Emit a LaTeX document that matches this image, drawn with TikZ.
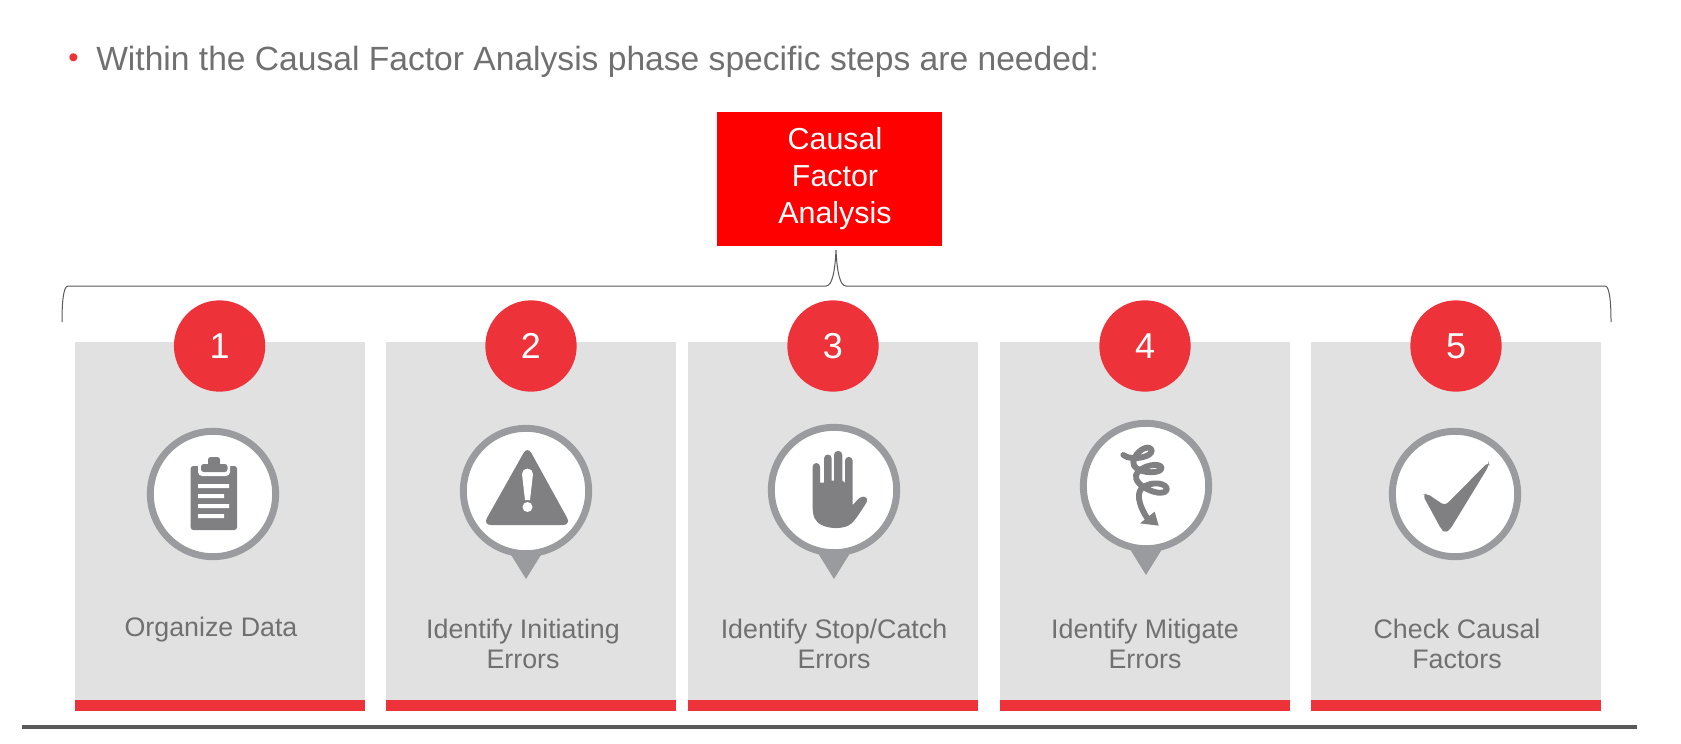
\documentclass[tikz,border=0pt]{standalone}
\usepackage{fontspec}
\setmainfont{Liberation Sans}
\definecolor{redc}{HTML}{EE3239}
\definecolor{panel}{HTML}{E1E1E2}
\definecolor{ringc}{HTML}{9A9B9E}
\definecolor{iconc}{HTML}{808082}
\definecolor{txt}{HTML}{707071}
\tikzset{
 panelbox/.style={fill=panel,draw=none,minimum width=217.5pt,minimum height=268.5pt,inner sep=0,outer sep=0,anchor=north west},
 barbox/.style={fill=redc,draw=none,minimum width=217.5pt,minimum height=8.25pt,inner sep=0,outer sep=0,anchor=north west},
 numdot/.style={circle,fill=redc,minimum size=68.5pt,inner sep=0,text=white,font=\fontsize{27}{27}\selectfont},
 ringdot/.style={circle,fill=white,draw=ringc,line width=5.2pt,minimum size=94pt,inner sep=0},
 steplabel/.style={align=center,text=txt,font=\fontsize{20.1}{22.7}\selectfont,inner sep=0},
 iconfill/.style={fill=iconc,draw=none},
 pointer/.style={fill=ringc,draw=none},
}
\begin{document}
\begin{tikzpicture}[x=0.75pt,y=-0.75pt]
\useasboundingbox (0,0) rectangle (1681,743);
\fill[white] (0,0) rectangle (1681,743);
% heading
\node[anchor=west,inner sep=0,text=redc,font=\fontsize{22}{22}\selectfont] (bullet) at (68,61) {•};
\node[anchor=west,inner sep=0,text=txt,font=\fontsize{25.2}{30}\selectfont] (head) at (96,62) {Within the Causal Factor Analysis phase specific steps are needed:};
% red box
\node[fill=red,minimum width=168.75pt,minimum height=100.5pt,inner sep=0] (cfa) at (829.5,178.5) {};
\node[inner sep=0,align=center,text=white,font=\fontsize{22.8}{27.5}\selectfont] (cfatext) at (835,178.5) {Causal\\Factor\\Analysis};
% brace
\coordinate (bl) at (62,322);
\coordinate (br) at (1611,322);
\coordinate (bt) at (836,250);
\draw[draw=black!65,line width=0.75pt]
 (bl) .. controls (62,305) and (63,286) .. (68,286) -- (826,286)
 .. controls (832,286) and (835,272) .. (bt)
 .. controls (837,272) and (840,286) .. (846,286) -- (1605,286)
 .. controls (1610,286) and (1611,305) .. (br);
% panels
\foreach \n/\x in {1/75,2/386,3/688,4/1000,5/1311}{
 \node[panelbox] (p\n) at (\x,342) {};
 \node[barbox] (b\n) at (\x,700) {};
}
% numbers
\foreach \n/\x in {1/219.6,2/531,3/833,4/1145,5/1456}{
 \node[numdot] (n\n) at (\x,346) {\n};
}
% pointers
\fill[pointer] (508,550) -- (544,550) -- (526,579) -- cycle;
\fill[pointer] (816,550) -- (852,550) -- (834,579) -- cycle;
\fill[pointer] (1128,546) -- (1164,546) -- (1146,575) -- cycle;
% rings
\node[ringdot] (r1) at (213,494) {};
\node[ringdot] (r2) at (526,491) {};
\node[ringdot] (r3) at (834,490) {};
\node[ringdot] (r4) at (1146,486) {};
\node[ringdot] (r5) at (1455,494) {};
% clipboard
\fill[iconfill,rounded corners=2] (190.7,466) rectangle (237,530);
\fill[white,rounded corners=3] (198,462) rectangle (230,476);
\fill[iconfill,rounded corners=2] (201,464) rectangle (227.5,472);
\fill[iconfill,rounded corners=2] (208,457) rectangle (220,466);
\fill[white] (198,484) rectangle (229,488) (198,494) rectangle (224,498) (198,504) rectangle (229,508) (198,514) rectangle (224,518);
% warning
\fill[iconfill,rounded corners=6] (527.5,446) -- (571,525) -- (483,525) -- cycle;
\fill[white] (522,474) arc[start angle=180,end angle=360,radius=5.5] -- (530,500) -- (525,500) -- cycle;
\fill[white] (527.5,507) circle[radius=5];
% hand
\begin{scope}[shift={(680,240)},x=0.25pt,y=-0.25pt]
\fill[iconfill] (398,680) arc[start angle=180,end angle=360,radius=11]
 -- (420,728) -- (432,728) -- (432,655) arc[start angle=180,end angle=360,radius=11.5]
 -- (455,722) -- (462,722) -- (462,645) arc[start angle=180,end angle=360,radius=12.5]
 -- (487,722) -- (495,728) -- (495,662) arc[start angle=180,end angle=360,radius=11.5]
 -- (518,795) .. controls (525,790) and (535,772) .. (548,770)
 .. controls (560,768) and (565,780) .. (558,790)
 .. controls (545,810) and (530,835) .. (515,850)
 .. controls (495,868) and (450,868) .. (425,855)
 .. controls (405,845) and (398,830) .. (398,800) -- cycle;
\end{scope}
% spiral
\begin{scope}[shift={(1060,410)},x=0.25pt,y=-0.25pt]
\draw[draw=iconc,line width=4.4pt,line cap=round,line join=round]
 (190,135) .. controls (215,155) and (280,140) .. (275,120)
 .. controls (265,100) and (225,125) .. (220,155)
 .. controls (215,190) and (300,195) .. (305,175)
 .. controls (305,155) and (240,165) .. (228,195)
 .. controls (220,230) and (310,265) .. (320,240)
 .. controls (325,220) and (275,210) .. (245,235)
 .. controls (225,255) and (245,300) .. (262,325);
\fill[iconfill] (240,340) -- (284,305) -- (296,347) -- cycle;
\end{scope}
% check
\begin{scope}[shift={(1200,260)},x=0.25pt,y=-0.25pt]
\fill[iconfill,rounded corners=3] (668,705) -- (680,700) -- (735,737) -- (865,606) -- (868,615) -- (748,812) -- (735,816) -- (725,810) -- cycle;
\end{scope}
% labels
\node[steplabel] (l1) at (211,630) {Organize Data};
\node[steplabel] (l2) at (523,644) {Identify Initiating\\Errors};
\node[steplabel] (l3) at (834,644) {Identify Stop/Catch\\Errors};
\node[steplabel] (l4) at (1145,644) {Identify Mitigate\\Errors};
\node[steplabel] (l5) at (1457,644) {Check Causal\\Factors};
% rule
\fill[black!65] (22,724.5) rectangle (1637,728.5);
\end{tikzpicture}
\end{document}
